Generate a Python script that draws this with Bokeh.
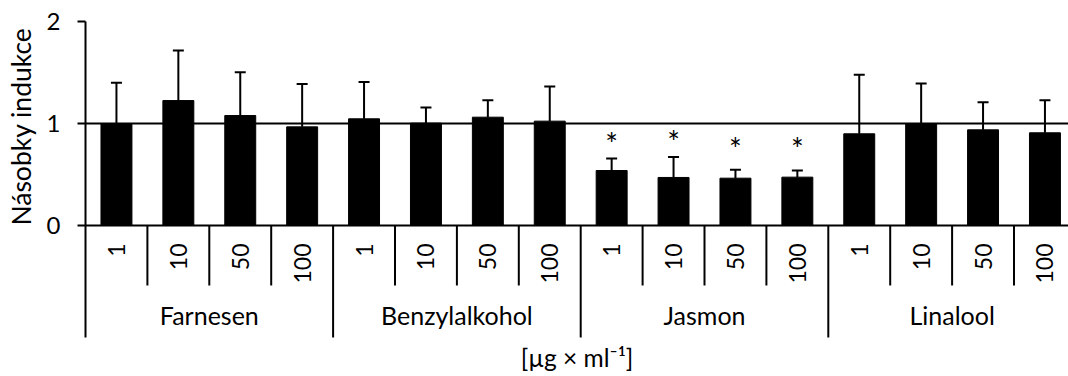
import numpy as np
from bokeh.plotting import figure
from bokeh.models import Range1d, ColumnDataSource, Whisker, TeeHead
from bokeh.core.properties import value
from bokeh.embed import file_html
from bokeh.resources import INLINE

# ---------------- data ----------------
groups = ["Farnesen", "Benzylalkohol", "Jasmon", "Linalool"]
concentrations = ["1", "10", "50", "100"]
fold_induction = [1.00, 1.225, 1.078, 0.967,
                  1.046, 1.003, 1.062, 1.023,
                  0.539, 0.471, 0.464, 0.474,
                  0.899, 0.997, 0.938, 0.909]
sd_upper = [0.40, 0.49, 0.425, 0.42,
            0.36, 0.155, 0.165, 0.34,
            0.118, 0.20, 0.082, 0.065,
            0.58, 0.395, 0.27, 0.32]
significant = [False] * 8 + [True] * 4 + [False] * 4
star_level = [0.887, 0.907, 0.838, 0.838]   # height of '*' markers (Jasmon)
y_ticks = [0, 1, 2]
y_tick_labels = ["0", "1", "2"]
reference_level = 1.0
y_label = "Násobky indukce"
unit_label = "[µg × ml⁻¹]"

FONT = "Lato"

W, H = 1068, 376
PX_X = 61.9      # px per category
PX_Y = 102.0     # px per unit of fold induction
LEFT, TOP = 85, 21

n = len(fold_induction)
xc = np.arange(n) + 0.5
tick_labels = concentrations * len(groups)

x0 = -LEFT / PX_X
x_end = (W - LEFT) / PX_X
y_top = y_ticks[-1] + TOP / PX_Y
y_bot = y_top - H / PX_Y

p = figure(width=W, height=H, output_backend="svg", toolbar_location=None,
           x_range=Range1d(x0, x_end), y_range=Range1d(y_bot, y_top),
           x_axis_type=None, y_axis_type=None,
           min_border_left=0, min_border_right=0,
           min_border_top=0, min_border_bottom=0)
p.outline_line_color = None
p.grid.visible = False
p.background_fill_color = "white"

# bars
src = ColumnDataSource(dict(x=xc, top=fold_induction,
                            upper=np.array(fold_induction) + np.array(sd_upper)))
p.vbar(x="x", top="top", bottom=0, width=0.5, source=src,
       fill_color="black", line_color="black", line_width=1)

# error bars (upper only)
p.add_layout(Whisker(source=src, base="x", upper="upper", lower="top",
                     dimension="height", lower_head=None,
                     upper_head=TeeHead(size=11, line_width=2, line_color="black"),
                     line_width=2, line_color="black"))

# reference line and x axis line
p.segment(x0=[0, 0], y0=[reference_level, 0], x1=[x_end, x_end],
          y1=[reference_level, 0], line_color="black", line_width=2)

# category separators
bounds = np.arange(n + 1)
long_b = [b for b in bounds if b % len(concentrations) == 0]
short_b = [b for b in bounds if b % len(concentrations) != 0]
p.segment(x0=short_b, y0=0, x1=short_b, y1=-0.588, line_color="black", line_width=2)
p.segment(x0=long_b, y0=0, x1=long_b, y1=-1.098, line_color="black", line_width=2)

# y-axis line, ticks and labels
p.segment(x0=[0], y0=[0], x1=[0], y1=[y_ticks[-1]], line_color="black", line_width=2)
tick_len = 8 / PX_X
p.segment(x0=[-tick_len] * len(y_ticks), y0=y_ticks, x1=[0] * len(y_ticks),
          y1=y_ticks, line_color="black", line_width=2)
p.text(x=[-25 / PX_X] * len(y_ticks), y=y_ticks, text=y_tick_labels,
       text_align="right", text_baseline="middle",
       text_font=value(FONT), text_font_size="24px", text_color="black")

# y axis title
p.text(x=[-65 / PX_X], y=[0.97], text=[y_label], angle=np.pi / 2,
       text_align="center", text_baseline="alphabetic",
       text_font=value(FONT), text_font_size="26.5px", text_color="black")

# concentration tick labels (rotated)
p.text(x=xc, y=-0.176, text=tick_labels, angle=np.pi / 2,
       text_align="right", text_baseline="middle",
       text_font=value(FONT), text_font_size="23px", text_color="black")

# group labels
gx = np.arange(len(groups)) * len(concentrations) + len(concentrations) / 2
p.text(x=gx, y=-0.88, text=groups, text_align="center", text_baseline="alphabetic",
       text_font=value(FONT), text_font_size="25px", text_color="black")

# significance stars
sx = xc[np.array(significant)]
p.text(x=sx, y=star_level, text=["*"] * len(sx), text_align="center",
       text_baseline="middle", y_offset=8,
       text_font=value(FONT), text_font_size="30px", text_color="black")

# unit label
p.text(x=[x_end / 2], y=[-1.295], text=[unit_label], text_align="center",
       text_baseline="alphabetic", text_font=value(FONT),
       text_font_size="24.5px", text_color="black")

open("out.html", "w").write(file_html(p, INLINE))
